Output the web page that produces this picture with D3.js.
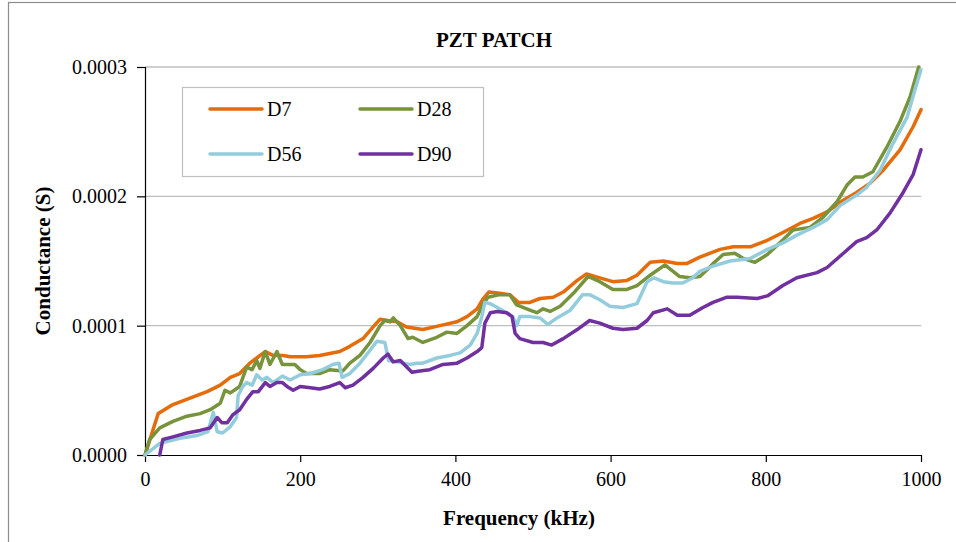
<!DOCTYPE html>
<html>
<head>
<meta charset="utf-8">
<script src="https://cdn.jsdelivr.net/npm/d3@7"></script>
<style>
  html, body { margin: 0; padding: 0; background: #fff; }
  svg { display: block; }
  text { font-family: "Liberation Serif", "Times New Roman", serif; fill: #000; }
</style>
</head>
<body>
<svg id="chart" width="956" height="542"></svg>
<script>
// Conductance readings in µS, frequency in kHz
const d7Freq = [0,17,36,58,80,97,110,122,135,144,155,165,178,187,208,225,251,264,281,294,303,313,325,337,358,380,402,415,428,436,443,457,470,481,496,509,526,539,557,569,586,603,621,634,651,668,686,698,715,741,758,780,802,822,844,861,879,900,917,934,951,973,990,1000];
const d7Vals = [0,32,39,44,49,54,60,63,71,75,80,77,77,76,76,77,80,84,90,99,105,104,103,99,97,100,103,107,113,121,126,125,124,118,118,121,122,126,135,140,137,134,135,139,149,150,148,148,153,159,161,161,166,172,179,183,188,197,203,210,220,236,254,267];

const d28Freq = [0,6,19,36,54,71,84,97,103,110,122,131,138,144,148,155,161,170,177,183,193,200,208,225,238,255,264,277,290,303,309,316,320,329,339,345,358,376,389,402,415,428,436,442,457,470,479,496,505,513,522,535,552,571,586,603,621,634,651,670,689,702,715,724,732,745,760,771,786,802,818,835,857,874,892,905,915,925,938,956,973,986,997];
const d28Vals = [0,12,21,26,30,32,35,40,50,48,53,68,66,73,67,80,70,80,70,70,70,66,63,63,66,65,71,77,87,100,104,103,106,100,90,91,87,91,95,94,100,107,117,122,124,124,116,112,110,113,111,115,125,138,134,128,128,131,139,147,138,137,138,143,148,155,156,152,149,155,164,174,176,184,196,209,215,215,219,238,258,277,300];

const d56Freq = [0,19,45,67,81,88,93,100,110,118,120,126,131,138,144,151,157,165,177,187,200,213,229,242,250,254,264,277,290,299,309,314,325,341,350,358,376,393,406,419,428,434,438,445,454,466,474,479,483,496,509,519,531,548,564,573,586,599,616,634,647,656,668,680,693,706,715,732,754,780,802,822,840,861,879,896,917,930,947,964,982,992,1000];
const d56Vals = [0,9,13,15,18,33,18,17,22,29,46,53,56,54,62,58,60,56,61,58,62,63,66,70,71,60,63,71,81,88,87,73,72,70,71,71,75,77,79,85,94,107,118,117,114,110,107,100,107,107,106,101,106,112,124,124,120,115,114,117,134,137,134,133,133,137,142,146,150,152,159,164,170,176,182,193,201,207,220,241,261,282,298];

const d90Freq = [19,23,36,54,71,84,93,99,106,113,122,131,139,146,155,161,170,177,183,191,200,213,225,238,251,258,268,281,294,307,313,320,329,344,354,367,384,402,415,428,434,438,445,454,466,473,477,483,500,513,524,539,557,573,586,603,616,634,647,655,673,686,702,719,732,750,763,789,802,822,840,866,879,900,917,930,943,960,977,990,1000];
const d90Vals = [0,12,14,17,19,21,29,25,25,31,35,43,49,49,56,53,56,56,53,50,53,52,51,53,56,52,54,60,67,75,78,72,73,64,65,66,70,71,75,80,83,102,110,111,110,107,94,90,87,87,85,90,97,104,102,98,97,98,104,110,113,108,108,114,118,122,122,121,123,131,137,141,145,156,165,168,174,187,203,217,236];

const seriesNames = ["D7", "D28", "D56", "D90"];
const seriesColors = ["#E46C0A", "#77933C", "#93CDDD", "#7030A0"];
const xTicks = [0, 200, 400, 600, 800, 1000];
const yTicks = [0, 100, 200, 300];

const series = [
  { name: seriesNames[0], color: seriesColors[0], freq: d7Freq, vals: d7Vals },
  { name: seriesNames[1], color: seriesColors[1], freq: d28Freq, vals: d28Vals },
  { name: seriesNames[2], color: seriesColors[2], freq: d56Freq, vals: d56Vals },
  { name: seriesNames[3], color: seriesColors[3], freq: d90Freq, vals: d90Vals }
];

const svg = d3.select("#chart");
const W = 956, H = 542;
const margin = { left: 145, right: 35, top: 67, bottom: 87 };
const plotW = W - margin.left - margin.right;
const plotH = H - margin.top - margin.bottom;

// outer chart frame
svg.append("rect")
  .attr("x", 8.5).attr("y", 2.5)
  .attr("width", 1000).attr("height", 600)
  .attr("fill", "none").attr("stroke", "#8c8c8c").attr("stroke-width", 1.2);

const x = d3.scaleLinear().domain([0, 1000]).range([margin.left, margin.left + plotW]);
const y = d3.scaleLinear().domain([0, 300]).range([margin.top + plotH, margin.top]);

// horizontal gridlines
svg.append("g")
  .selectAll("line")
  .data(yTicks.filter(d => d > 0))
  .join("line")
  .attr("x1", x(0)).attr("x2", x(1000))
  .attr("y1", d => y(d)).attr("y2", d => y(d))
  .attr("stroke", "#bfbfbf").attr("stroke-width", 1.3);

// y axis
const yAxis = svg.append("g")
  .attr("transform", `translate(${x(0)},0)`)
  .call(d3.axisLeft(y).tickValues(yTicks).tickSize(8).tickPadding(10)
    .tickFormat(d => (d * 1e-6).toFixed(4)));
yAxis.select(".domain").attr("stroke", "#000").attr("stroke-width", 1.2);
yAxis.selectAll(".tick line").attr("stroke", "#000").attr("stroke-width", 1.2);
yAxis.selectAll("text")
  .style("font-family", '"Liberation Serif", "Times New Roman", serif')
  .style("font-size", "20px").attr("fill", "#000");

// x axis
const xAxis = svg.append("g")
  .attr("transform", `translate(0,${y(0)})`)
  .call(d3.axisBottom(x).tickValues(xTicks).tickSize(7).tickPadding(10).tickSizeOuter(0)
    .tickFormat(d => String(d)));
xAxis.select(".domain").attr("stroke", "#000").attr("stroke-width", 1.2);
xAxis.selectAll(".tick line").attr("stroke", "#000").attr("stroke-width", 1.2);
xAxis.selectAll("text")
  .style("font-family", '"Liberation Serif", "Times New Roman", serif')
  .style("font-size", "20px").attr("fill", "#000");

// series lines
const line = d3.line()
  .x(d => x(d[0]))
  .y(d => y(d[1]));

svg.append("g")
  .selectAll("path")
  .data(series)
  .join("path")
  .attr("d", s => line(s.freq.map((f, i) => [f, s.vals[i]])))
  .attr("fill", "none")
  .attr("stroke", s => s.color)
  .attr("stroke-width", 3.5)
  .attr("stroke-linejoin", "round")
  .attr("stroke-linecap", "round");

// title and axis titles
svg.append("text")
  .attr("x", 494).attr("y", 47)
  .attr("text-anchor", "middle")
  .style("font-size", "21px").style("font-weight", "bold")
  .text("PZT PATCH");

svg.append("text")
  .attr("x", 519).attr("y", 525)
  .attr("text-anchor", "middle")
  .style("font-size", "21px").style("font-weight", "bold")
  .text("Frequency (kHz)");

svg.append("text")
  .attr("transform", `translate(50,${(y(0) + y(300)) / 2}) rotate(-90)`)
  .attr("text-anchor", "middle")
  .style("font-size", "21px").style("font-weight", "bold")
  .text("Conductance (S)");

// legend
const legend = svg.append("g");
legend.append("rect")
  .attr("x", 182.5).attr("y", 87.5).attr("width", 301).attr("height", 89)
  .attr("fill", "#fff").attr("stroke", "#bfbfbf").attr("stroke-width", 1.2);

const legendPos = [
  { lx: 210, ly: 109 }, { lx: 360, ly: 109 },
  { lx: 210, ly: 154 }, { lx: 360, ly: 154 }
];
const items = legend.selectAll("g.item")
  .data(series)
  .join("g")
  .attr("class", "item")
  .attr("transform", (s, i) => `translate(${legendPos[i].lx},${legendPos[i].ly})`);
items.append("line")
  .attr("x1", 0).attr("x2", 52).attr("y1", 0).attr("y2", 0)
  .attr("stroke", s => s.color).attr("stroke-width", 3.5)
  .attr("stroke-linecap", "round");
items.append("text")
  .attr("x", 57).attr("y", 7)
  .style("font-size", "20px")
  .text(s => s.name);
</script>
</body>
</html>
